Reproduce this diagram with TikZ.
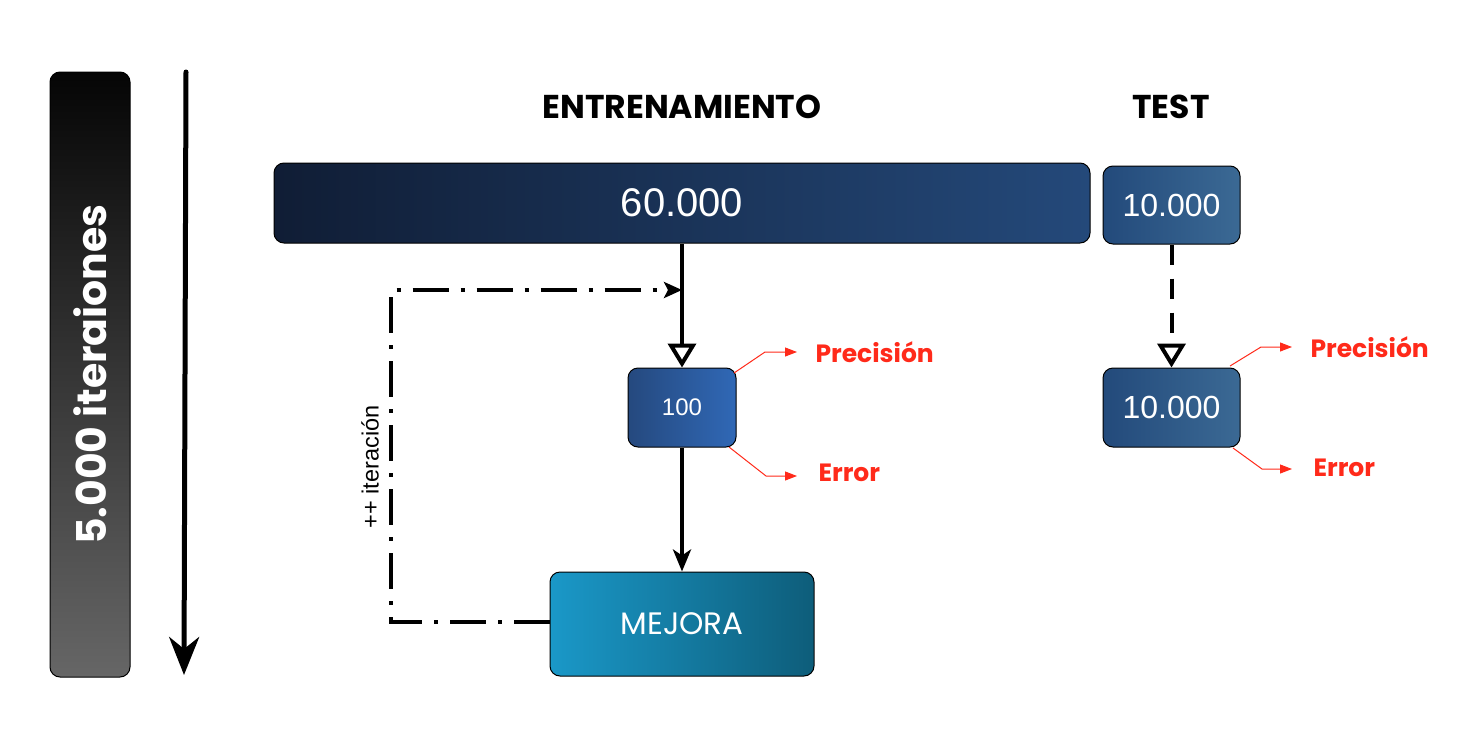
\documentclass[tikz,border=0pt]{standalone}
\usepackage{fontspec}
\setmainfont{Liberation Sans}
\newfontfamily\pop{Poppins}
\usetikzlibrary{arrows.meta}
\definecolor{barL}{HTML}{101D35}
\definecolor{barR}{HTML}{24497A}
\definecolor{tstL}{HTML}{234A7B}
\definecolor{tstR}{HTML}{3B6994}
\definecolor{hunL}{HTML}{25497E}
\definecolor{hunR}{HTML}{3068B6}
\definecolor{mejL}{HTML}{1A98C8}
\definecolor{mejR}{HTML}{0E5D7A}
\definecolor{redlab}{HTML}{FF2A1A}
\tikzset{
  box/.style={draw=black, line width=1pt, rounded corners=10pt, inner sep=0pt, text=white},
  title/.style={font=\pop\bfseries\fontsize{33}{36}\selectfont, text=black},
  redtxt/.style={font=\pop\bfseries\fontsize{25}{28}\selectfont, text=redlab, anchor=west},
  redarr/.style={draw=redlab, line width=1pt, -{Triangle[length=12pt, width=9pt]}},
  flow/.style={line width=4pt, draw=black},
}
\begin{document}
\begin{tikzpicture}[x=1pt,y=-1pt]
\useasboundingbox (0,0) rectangle (1462,744);
% left bar
\node[box, top color=black!98, bottom color=black!60, minimum width=80pt, minimum height=605pt] (bar) at (90,374.5) {};
\node[rotate=90, text=white, font=\pop\bfseries\fontsize{41}{44}\selectfont] (bartxt) at (bar.center) {5.000 iteraiones};
\coordinate (tA) at (186,72);
\coordinate (tB) at (184,675);
\draw[line width=5pt, line cap=round, -{Stealth[length=38pt, width=30pt, inset=12pt]}] (tA) -- (tB);
% titles
\node[title] (ent) at (682,107) {ENTRENAMIENTO};
\node[title] (tst) at (1171,107) {TEST};
% boxes
\node[box, left color=barL, right color=barR, minimum width=816pt, minimum height=80pt, font=\fontsize{40}{44}\selectfont] (big) at (682,203) {60.000};
\node[box, left color=tstL, right color=tstR, minimum width=137pt, minimum height=78pt, font=\fontsize{32}{36}\selectfont] (t1) at (1171.5,205) {10.000};
\node[box, left color=hunL, right color=hunR, minimum width=108pt, minimum height=79pt, font=\fontsize{24}{28}\selectfont] (h) at (682,407.5) {100};
\node[box, left color=tstL, right color=tstR, minimum width=137pt, minimum height=79pt, font=\fontsize{32}{36}\selectfont] (t2) at (1171.5,407.5) {10.000};
\node[box, left color=mejL, right color=mejR, minimum width=264pt, minimum height=104pt, font=\pop\fontsize{31}{34}\selectfont] (mej) at (682,624) {MEJORA};
% flows
\draw[flow, -{Triangle[open, length=24pt, width=28pt, line width=4pt]}] (big.south) -- (h.north);
\draw[flow, -{Stealth[length=22pt, width=18pt, inset=6pt]}] (h.south) -- (mej.north);
\draw[line width=4pt, dash pattern=on 20pt off 14pt, -{Triangle[open, length=24pt, width=28pt, line width=4pt]}] (t1.south) -- (t2.north);
\coordinate (lp1) at (391,622);
\coordinate (lp2) at (391,290);
\coordinate (lp3) at (682,290);
\draw[line width=4pt, dash pattern=on 36pt off 12pt on 4pt off 12pt, -{Stealth[length=18pt, width=16pt, inset=4pt]}] (mej.west |- lp1) -- (lp1) -- (lp2) -- (lp3);
\node[rotate=90, font=\fontsize{23.5}{26}\selectfont] (iter) at (370,467) {++ iteración};
% red outputs
\coordinate (p1) at (765,352);
\coordinate (p2) at (797,352);
\coordinate (e1) at (766,476);
\coordinate (e2) at (797,476);
\draw[redarr] (734,373) -- (p1) -- (p2);
\draw[redarr] (729,447) -- (e1) -- (e2);
\node[redtxt] (prec1) at (812,352) {Precisión};
\node[redtxt] (err1) at (815,473) {Error};
\coordinate (p3) at (1261,347);
\coordinate (p4) at (1292,347);
\coordinate (e3) at (1262,469);
\coordinate (e4) at (1292,469);
\draw[redarr] (1230,366) -- (p3) -- (p4);
\draw[redarr] (1233,448) -- (e3) -- (e4);
\node[redtxt] (prec2) at (1307,347) {Precisión};
\node[redtxt] (err2) at (1310,468) {Error};
\end{tikzpicture}
\end{document}
